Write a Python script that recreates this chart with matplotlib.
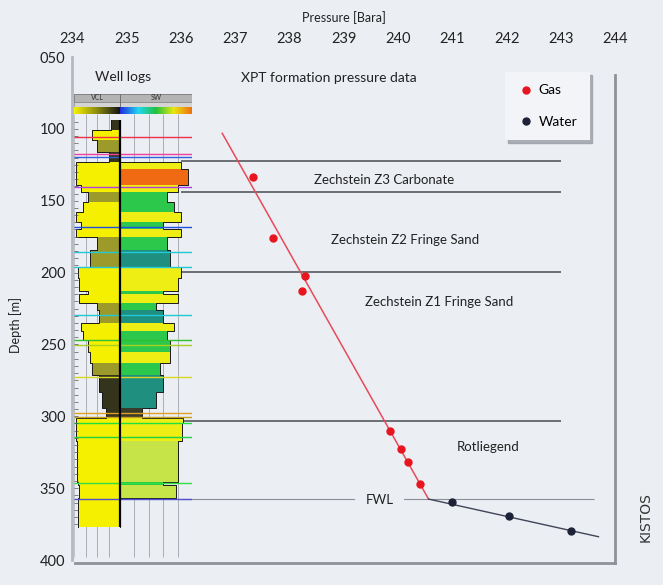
import numpy as np
import matplotlib
matplotlib.use("Agg")
import matplotlib.pyplot as plt
from matplotlib.lines import Line2D
from matplotlib.patches import Rectangle
from matplotlib.colors import LinearSegmentedColormap

plt.rcParams['font.family'] = ['Lato', 'DejaVu Sans']

# XPT formation pressure points
gas_pressure = [237.33, 237.70, 238.29, 238.22, 239.85, 240.06, 240.18, 240.40]
gas_depth = [133.3, 176.2, 202.2, 212.6, 310.0, 323.0, 331.8, 347.1]
water_pressure = [241.00, 242.05, 243.18]
water_depth = [359.4, 369.6, 379.6]

# pressure gradient lines (gas leg, water leg)
gas_line_pressure = [236.76, 240.56]
gas_line_depth = [103.1, 357.6]
water_line_pressure = [240.56, 243.69]
water_line_depth = [357.6, 383.8]

# formation tops and free water level
tops_depth = [122.6, 144.2, 199.4, 303.1]
tops_pressure_range = [236.0, 243.0]
fwl_depth = 357.8
fwl_pressure_range = [236.0, 243.6]
zone_names = ["Zechstein Z3 Carbonate", "Zechstein Z2 Fringe Sand",
              "Zechstein Z1 Fringe Sand", "Rotliegend"]
zone_pressure = [239.74, 240.13, 240.75, 241.66]
zone_depth = [135.6, 177.4, 220.3, 321.6]

pressure_ticks = list(range(234, 245))
depth_ticks = [50, 100, 150, 200, 250, 300, 350, 400]
depth_labels = ["050", "100", "150", "200", "250", "300", "350", "400"]

# well log intervals (depth m), VCL curve (0-1 of track) and SW (0-1 of track)
log_top = [93.8, 101, 108, 116, 123, 128, 139, 144, 151, 158,
           165, 170, 175, 184, 196, 204, 213, 215, 221, 226,
           235, 241, 247, 255, 263, 271, 283, 294, 301, 305,
           317, 346, 348, 357]
log_base = log_top[1:] + [376.9]
vcl_curve = [0.8, 0.4, 0.5, 0.75, 0.05, 0.04, 0.15, 0.3, 0.2, 0.05,
             0.15, 0.05, 0.5, 0.35, 0.08, 0.1, 0.3, 0.1, 0.5, 0.55,
             0.15, 0.2, 0.3, 0.35, 0.4, 0.55, 0.6, 0.7, 0.05, 0.04,
             0.06, 0.08, 0.1, 0.08]
vcl_class = ['d', 'y', 'o', 'd', 'y', 'y', 'y', 'o', 'y', 'y',
             'y', 'y', 'o', 'o', 'y', 'y', 'y', 'y', 'o', 'o',
             'y', 'y', 'y', 'y', 'o', 'd', 'd', 'd', 'y', 'y',
             'y', 'y', 'y', 'y']
sw_curve = [0, 0, 0, 0, 0.85, 0.95, 0.8, 0.65, 0.75, 0.85,
            0.6, 0.85, 0.65, 0.7, 0.85, 0.8, 0.6, 0.8, 0.5, 0.6,
            0.75, 0.65, 0.7, 0.7, 0.55, 0.6, 0.5, 0.3, 0.88, 0.86,
            0.8, 0.6, 0.78, 0]
sw_class = ['y', 'y', 'y', 'y', 'y', 'r', 'y', 'g', 'g', 'y',
            'g', 'y', 'g', 't', 'y', 'y', 'g', 'y', 'g', 't',
            'y', 'g', 'g', 'y', 'g', 't', 't', 'k', 'y', 'y',
            'l', 'g', 'l', 'l']
mark_depth = [105.7, 117.5, 119.8, 140.5, 168.0, 186.0, 196.0, 229.5, 247.0,
              250.5, 272.7, 297.7, 300.5, 305.0, 314.5, 346.5, 357.6]
mark_color = ['#f0304a', '#f040a0', '#3060e0', '#b040e0', '#2050e0', '#20c8d8',
              '#20c8d8', '#20c8d8', '#30c030', '#a8d020', '#d8d820', '#e0a020',
              '#c8a020', '#20e040', '#20d040', '#30e040', '#5050d0']

vcl_palette = {'y': '#f4f000', 'o': '#9c9a2a', 'd': '#34331c'}
sw_palette = {'y': '#eeee14', 'r': '#f06a14', 'g': '#2cc84c', 't': '#1f8f80',
              'l': '#c6e448', 'k': '#3b3b2c'}

bg = '#ebeef3'
W, H = 663, 585
fig = plt.figure(figsize=(W / 100, H / 100), dpi=100, facecolor=bg)

ax = fig.add_axes([72.4 / W, 1 - 560 / H, 542.9 / W, 503 / H], facecolor=bg)
ax.set_xlim(234, 244)
ax.set_ylim(400, 50)
ax.xaxis.tick_top()
ax.xaxis.set_label_position('top')
ax.set_xticks(pressure_ticks)
ax.set_yticks(depth_ticks, depth_labels)
ax.tick_params(axis='x', length=0, pad=8, labelsize=10.5, colors='#222222')
ax.tick_params(axis='y', length=0, pad=5, labelsize=10.5, colors='#222222')
ax.set_xlabel('Pressure [Bara]', fontsize=9, labelpad=7, color='#222222')
ax.set_ylabel('Depth [m]', fontsize=9, color='#222222')
ax.yaxis.set_label_coords(-0.093, 0.467)
for s in ['top', 'right', 'bottom']:
    ax.spines[s].set_visible(False)
ax.spines['left'].set_color('#b5bac2')
ax.spines['left'].set_linewidth(2)

# panel shadow borders
ax.plot([1, 1], [-0.005, 0.964], transform=ax.transAxes, color='#8e9298', lw=2, clip_on=False)
ax.plot([0.005, 1], [-0.005, -0.005], transform=ax.transAxes, color='#8e9298', lw=2, clip_on=False)

ax.hlines(tops_depth, *tops_pressure_range, colors='#55585e', lw=1.2)
ax.hlines(fwl_depth, *fwl_pressure_range, colors='#8a8e96', lw=0.8)

ax.plot(gas_line_pressure, gas_line_depth, color='#e84a5a', lw=1.1, zorder=3)
ax.plot(water_line_pressure, water_line_depth, color='#404558', lw=1.0, zorder=3)
ax.plot(gas_pressure, gas_depth, 'o', color='#e8141e', ms=5, zorder=5)
ax.plot(water_pressure, water_depth, 'o', color='#1e2238', ms=5, zorder=5)

for name, p, d in zip(zone_names, zone_pressure, zone_depth):
    ax.text(p, d, name, ha='center', va='center', fontsize=9.5, color='#222222')
ax.text(239.66, 358.3, 'FWL', ha='center', va='center', fontsize=9.5, color='#222222',
        zorder=4, bbox=dict(boxstyle='square,pad=0.8', fc=bg, ec='none'))
ax.text(234.93, 63.9, 'Well logs', ha='center', va='center', fontsize=10, color='#222222')
ax.text(238.72, 64.6, 'XPT formation pressure data', ha='center', va='center',
        fontsize=10, color='#222222')

handles = [Line2D([], [], marker='o', ls='none', color='#e8141e', ms=5, label='Gas'),
           Line2D([], [], marker='o', ls='none', color='#1e2238', ms=5, label='Water')]
ax.legend(handles=handles, loc='upper left', bbox_to_anchor=(505 / W, 1 - 72 / H),
          bbox_transform=fig.transFigure, frameon=True, facecolor='#f2f4f7',
          edgecolor='none', fancybox=False, shadow={'color': '#9a9ea6', 'alpha': 0.8},
          fontsize=10, labelspacing=1.4, handletextpad=0.3, borderpad=0.9,
          handlelength=1.2, borderaxespad=0)

fig.text(646 / W, 1 - 517 / H, 'KISTOS', rotation=90, family='DejaVu Sans',
         fontsize=10, ha='center', va='center', color='#333333')

# well log panel
lax = fig.add_axes([74 / W, 1 - 560 / H, 118 / W, 503 / H])
lax.set_xlim(0, 1)
lax.set_ylim(400, 50)
lax.axis('off')
split = 0.39

lax.vlines([split * f for f in (0.25, 0.5, 0.75)], 90, 398, colors='#a9adb5', lw=0.7, zorder=0)
lax.vlines([split + (1 - split) * f for f in (0.2, 0.4, 0.6, 0.8)], 90, 398,
           colors='#a9adb5', lw=0.7, zorder=0)
lax.vlines(0, 90, 398, colors='#c0c4ca', lw=0.7, zorder=0)

tops = np.array(log_top)
heights = np.array(log_base) - tops
vcl_x = split * np.array(vcl_curve)
lax.barh(tops, split - vcl_x, height=heights, left=vcl_x, align='edge',
         color=[vcl_palette[c] for c in vcl_class], lw=0, zorder=1)
sw_w = (1 - split) * np.array(sw_curve)
lax.barh(tops, sw_w, height=heights, left=split, align='edge',
         color=[sw_palette[c] for c in sw_class], lw=0, zorder=1)

ys = np.column_stack([log_top, log_base]).ravel()
lax.plot(np.repeat(vcl_x, 2), ys, color='#1a1a1a', lw=0.7, zorder=2)
lax.plot(split + np.repeat(sw_w, 2), ys, color='#1a1a1a', lw=0.7, zorder=2)
lax.hlines(mark_depth, 0, 1, colors=mark_color, lw=1.0, zorder=3)
lax.vlines(split, log_top[0], log_base[-1], colors='k', lw=1.6, zorder=4)
lax.hlines(np.arange(95, 377, 5), 0, 0.03, colors='#555555', lw=0.5, zorder=4)

# log header
lax.add_patch(Rectangle((0, 75.4), 1, 5.8, fc='#b4b4b4', ec='#777777', lw=0.6))
lax.add_patch(Rectangle((0, 81.2), 1, 3.4, fc='#d4d4d4', ec='#888888', lw=0.5))
lax.vlines(split, 75.4, 84.6, colors='#666666', lw=0.6)
lax.text(split / 2, 78.3, 'VCL', ha='center', va='center', fontsize=5, color='#333333')
lax.text(split + (1 - split) / 2, 78.3, 'SW', ha='center', va='center', fontsize=5, color='#333333')
grad = np.linspace(0, 1, 64)[None, :]
vcl_cmap = LinearSegmentedColormap.from_list('vcl', ['#f4f000', '#8a8a10', '#101010'])
sw_cmap = LinearSegmentedColormap.from_list('sw', ['#2030e0', '#20d8f0', '#20c040', '#e8e810', '#f07010'])
lax.imshow(grad, cmap=vcl_cmap, aspect='auto', extent=(0, split, 89.9, 85.7), zorder=2)
lax.imshow(grad, cmap=sw_cmap, aspect='auto', extent=(split, 1, 89.9, 85.7), zorder=2)
lax.set_xlim(0, 1)
lax.set_ylim(400, 50)

fig.savefig('out.png', dpi=100, facecolor=bg)
